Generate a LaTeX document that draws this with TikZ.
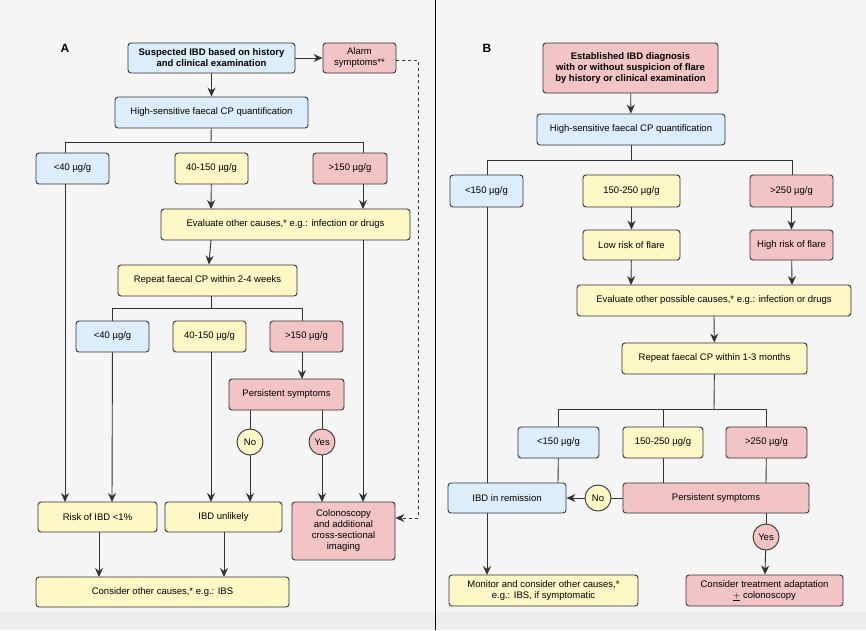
\documentclass[tikz,border=0pt]{standalone}
\usepackage{fontspec}
\setmainfont{Liberation Sans}
\usetikzlibrary{arrows.meta}
\definecolor{cb}{HTML}{DCEEFB}
\definecolor{cy}{HTML}{FDF8C6}
\definecolor{cr}{HTML}{F2C4C6}
\definecolor{ln}{HTML}{333333}
\newcommand\bx[8]{\node[box,fill=#2,minimum width={#5pt-#3pt},minimum height={#6pt-#4pt},#7] (#1) at ({(#3+#5)/2},{(#4+#6)/2}) {#8};}
\begin{document}
\begin{tikzpicture}[x=1pt,y=-1pt,
  box/.style={draw=ln,line width=0.9pt,rounded corners=3pt,align=center,inner sep=1pt,font=\fontsize{9.5}{11}\selectfont},
  bold/.style={font=\fontsize{9.5}{11}\selectfont\bfseries},
  circ/.style={circle,draw=ln,line width=0.9pt,minimum size=26pt,inner sep=0pt,font=\fontsize{9.5}{10}\selectfont},
  ar/.style={-{Stealth[length=9pt,width=8pt]},line width=0.9pt,draw=ln},
  pl/.style={line width=0.9pt,draw=ln}]
\fill[white!96!black] (0,0) rectangle (866,612);
\fill[white!93!black] (0,612) rectangle (866,630);
\useasboundingbox (0,0) rectangle (866,630);
\draw[line width=0.8pt] (435,0) -- (435,630);
% Panel A
\node[font=\bfseries\large] (la) at (65,48) {A};
\bx{s}{cb}{128}{43}{295}{73}{bold}{Suspected IBD based on history\\and clinical examination}
\bx{al}{cr}{323}{43}{396}{73}{}{Alarm\\symptoms**}
\bx{hs}{cb}{115}{97}{308}{128}{}{High-sensitive faecal CP quantification}
\bx{a1}{cb}{36}{153}{109}{184}{}{<40 µg/g}
\bx{a2}{cy}{175}{153}{248}{184}{}{40-150 µg/g}
\bx{a3}{cr}{313}{153}{387}{184}{}{>150 µg/g}
\bx{ev}{cy}{161}{209}{410}{240}{}{Evaluate other causes,* e.g.: infection or drugs}
\bx{rp}{cy}{118}{265}{297}{296}{}{Repeat faecal CP within 2-4 weeks}
\bx{b1}{cb}{76}{321}{149}{352}{}{<40 µg/g}
\bx{b2}{cy}{173}{321}{246}{352}{}{40-150 µg/g}
\bx{b3}{cr}{270}{321}{343}{352}{}{>150 µg/g}
\bx{ps}{cr}{229}{379}{344}{410}{}{Persistent symptoms}
\node[circ,fill=cy] (no) at (250,442) {No};
\node[circ,fill=cr] (yes) at (322,442) {Yes};
\bx{rk}{cy}{38}{502}{157}{532}{}{Risk of IBD <1\%}
\bx{un}{cy}{165}{502}{282}{532}{}{IBD unlikely}
\bx{co}{cr}{292}{502}{395}{560}{}{Colonoscopy\\and additional\\cross-sectional\\imaging}
\bx{ot}{cy}{36}{577}{289}{607}{}{Consider other causes,* e.g.: IBS}
\draw[ar] (s) -- (hs);
\draw[ar] (s) -- (al);
\draw[pl] (hs) -- (211,142);
\draw[pl] (65,153) -- (65,142) -- (363,142) -- (363,153);
\draw[ar] (a2) -- (211,209);
\draw[ar] (363,184) -- (363,209);
\draw[ar] (211,240) -- (rp);
\draw[pl] (211,296) -- (211,308);
\draw[pl] (112,321) -- (112,308) -- (302,308) -- (302,321);
\draw[ar] (302,352) -- (302,379);
\draw[ar] (65,184) -- (65,502);
\draw[ar] (b1) -- (112,502);
\draw[ar] (211,352) -- (211,502);
\draw[pl] (250,410) -- (no);
\draw[ar] (no) -- (250,502);
\draw[pl] (322,410) -- (yes);
\draw[ar] (yes) -- (322,502);
\draw[ar] (363,240) -- (363,502);
\draw[ar] (99,532) -- (99,577);
\draw[ar] (224,532) -- (224,577);
\draw[pl,dashed] (al.east|-0,60) -- (418,60) -- (418,518);
\draw[ar,dashed] (418,518) -- (co.east|-0,518);
% Panel B
\node[font=\bfseries\large] (lb) at (487,48) {B};
\bx{e}{cr}{543}{43}{718}{93}{bold}{Established IBD diagnosis\\with or without suspicion of flare\\by history or clinical examination}
\bx{h2}{cb}{537}{114}{725}{145}{}{High-sensitive faecal CP quantification}
\bx{c1}{cb}{450}{175}{523}{207}{}{<150 µg/g}
\bx{c2}{cy}{583}{175}{680}{207}{}{150-250 µg/g}
\bx{c3}{cr}{750}{175}{833}{207}{}{>250 µg/g}
\bx{lo}{cy}{583}{230}{680}{260}{}{Low risk of flare}
\bx{hi}{cr}{750}{230}{833}{260}{}{High risk of flare}
\bx{e2}{cy}{577}{285}{851}{316}{}{Evaluate other possible causes,* e.g.: infection or drugs}
\bx{r2}{cy}{622}{343}{807}{374}{}{Repeat faecal CP within 1-3 months}
\bx{d1}{cb}{518}{427}{599}{458}{}{<150 µg/g}
\bx{d2}{cy}{623}{427}{703}{458}{}{150-250 µg/g}
\bx{d3}{cr}{726}{427}{807}{458}{}{>250 µg/g}
\bx{rem}{cb}{448}{483}{566}{513}{}{IBD in remission}
\bx{p2}{cr}{623}{483}{809}{513}{}{Persistent symptoms}
\node[circ,fill=cy] (no2) at (598,498) {No};
\node[circ,fill=cr] (yes2) at (766,537) {Yes};
\bx{mo}{cy}{449}{575}{638}{606}{}{Monitor and consider other causes,*\\e.g.: IBS, if symptomatic}
\bx{ct}{cr}{686}{575}{843}{606}{}{Consider treatment adaptation\\$\underline{+}$ colonoscopy}
\draw[ar] (e) -- (h2);
\draw[pl] (h2) -- (631,160);
\draw[pl] (487,175) -- (487,160) -- (792,160) -- (792,175);
\draw[ar] (c2) -- (lo);
\draw[ar] (c3) -- (hi);
\draw[ar] (lo) -- (631,285);
\draw[ar] (hi) -- (792,285);
\draw[ar] (714,316) -- (r2);
\draw[pl] (r2) -- (714,409);
\draw[pl] (558,427) -- (558,409) -- (766,409) -- (766,427);
\draw[pl] (663,409) -- (d2);
\draw[pl] (d1) -- (558,483);
\draw[pl] (d2) -- (663,483);
\draw[pl] (d3) -- (766,483);
\draw[pl] (487,207) -- (487,483);
\draw[pl] (p2) -- (no2);
\draw[ar] (no2) -- (rem);
\draw[pl] (766,513) -- (yes2);
\draw[ar] (yes2) -- (ct);
\draw[ar] (487,513) -- (487,575);
\end{tikzpicture}
\end{document}
